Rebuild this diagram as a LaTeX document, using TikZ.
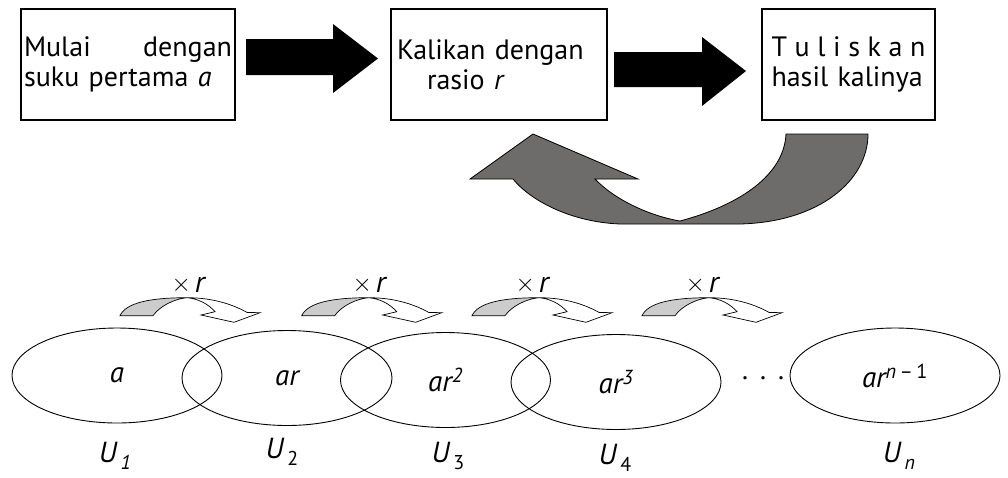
\documentclass[tikz,border=0pt]{standalone}
\usepackage{fontspec}
\setmainfont{PT Sans}
\usepackage{tikz}
\usetikzlibrary{shapes.geometric}

\definecolor{putar}{RGB}{110,108,106}
\newcommand{\ulab}[1]{\textit{U}\kern3pt\raisebox{-7pt}{\fontsize{20}{20}\selectfont #1}}
\newcommand{\kalisign}{\raisebox{1pt}{\fontsize{46}{30}\selectfont$\times$}\kern4pt\textit{r}}

\begin{document}
\begin{tikzpicture}[x=1pt, y=-1pt,
    box/.style = {draw, line width=1.2pt, minimum height=111pt, inner sep=2pt, align=left, font=\fontsize{28}{30}\selectfont},
    suku/.style = {draw, ellipse, line width=0.9pt, minimum width=210pt, minimum height=95pt, inner sep=0pt, font=\fontsize{29}{30}\selectfont\itshape},
    kali/.style = {anchor=base, font=\fontsize{30}{30}\selectfont},
    ulabel/.style = {anchor=base, font=\fontsize{29}{30}\selectfont},
    kalir/.pic = {
        \filldraw[fill=gray!40, line width=0.7pt] (0,0) .. controls (6,-13) and (30,-18) .. (67,-18) .. controls (55,-17) and (40,-10) .. (33,0) -- cycle;
        \filldraw[fill=white, line width=0.7pt] (67,-18) .. controls (95,-18) and (115,-10) .. (127,-3.3) -- (140,-3) -- (114,6.6) -- (81,-0.7) -- (95,-4) .. controls (88,-12) and (78,-17) .. (67,-18) -- cycle;
    }]
    \useasboundingbox (0,0) rectangle (1008,477);

    \node [box, minimum width=214pt, text width=208pt] (mulai) at (128,64.5) {Mulai\hfill dengan\\suku pertama \textit{a}};
    \node [box, minimum width=216pt, text width=204pt] (kalikan) at (499,64.5) {Kalikan dengan\\\hspace*{30pt}rasio \textit{r}};
    \node [box, minimum width=173pt, text width=154pt] (tulis) at (848.5,64.5) {T\hfill u\hfill l\hfill i\hfill s\hfill k\hfill a\hfill n\\hasil kalinya};

    \fill (246,39) -- (333,39) -- (333,24) -- (378,58.5) -- (333,93) -- (333,75) -- (246,75) -- cycle;
    \fill (614,52) -- (702,52) -- (702,37) -- (746,71) -- (702,106) -- (702,87) -- (614,87) -- cycle;

    % kembali ke langkah kedua
    \filldraw[fill=putar, line width=0.8pt] (868,134) .. controls (868,180) and (820,222) .. (740,224) -- (620,224)
        .. controls (570,222) and (530,200) .. (513,179) -- (470,179) -- (533,134) -- (638,179) -- (595,179)
        .. controls (615,200) and (650,216) .. (680,221) .. controls (740,205) and (784,175) .. (786,134) -- cycle;

    \pic at (120,315.7) {kalir};
    \pic at (301.7,315.7) {kalir};
    \pic at (472,315.7) {kalir};
    \pic at (642,315.7) {kalir};

    \node [kali] (x1) at (189,292) {\kalisign};
    \node [kali] (x2) at (370,292) {\kalisign};
    \node [kali] (x3) at (533,292) {\kalisign};
    \node [kali] (x4) at (703,292) {\kalisign};

    \node [suku] (s1) at (117,375.5) {a};
    \node [suku] (s2) at (287,378) {ar};
    \node [suku] (s3) at (445.5,380) {ar\textsuperscript{2}};
    \node [suku] (s4) at (616,382) {ar\textsuperscript{3}};
    \node [suku] (sn) at (895,375.5) {ar\textsuperscript{n\,\upshape–\,1}};
    \node [font=\fontsize{28}{30}\selectfont] (titik) at (763,378) {.\hspace{12pt}.\hspace{12pt}.};

    \node [ulabel] (u1) at (115,462) {\ulab{\itshape 1}};
    \node [ulabel] (u2) at (282,458) {\ulab{2}};
    \node [ulabel] (u3) at (448,462) {\ulab{3}};
    \node [ulabel] (u4) at (615,464) {\ulab{4}};
    \node [ulabel] (un) at (899,462) {\ulab{\itshape n}};

\end{tikzpicture}
\end{document}
